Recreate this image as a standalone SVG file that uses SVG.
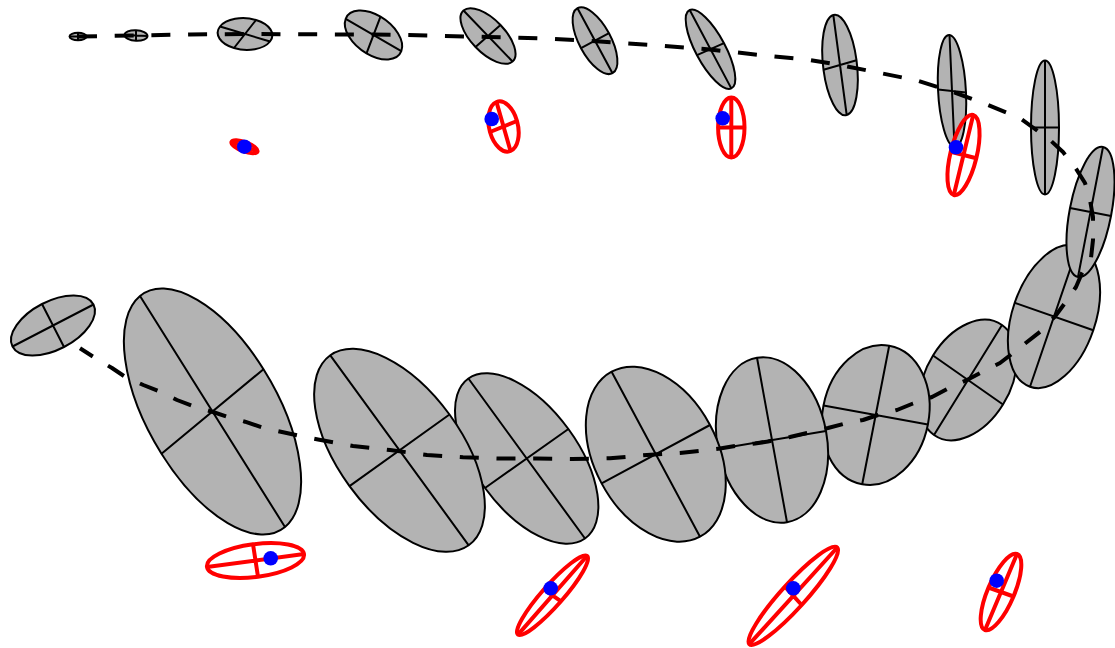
<svg xmlns="http://www.w3.org/2000/svg" width="1115" height="648" viewBox="0 0 1115 648">
<style>
.g{fill:#b3b3b3;stroke:#000;stroke-width:2}
.r{fill:none;stroke:#ff0000;stroke-width:4}
.dot{fill:#0000ff}
.traj{fill:none;stroke:#000;stroke-width:4;stroke-dasharray:19 17.7;stroke-linejoin:round}
</style>
<defs>
<g id="unit"><circle r="1" vector-effect="non-scaling-stroke"/><path d="M-1 0H1M0-1V1" fill="none" vector-effect="non-scaling-stroke"/></g>
</defs>
<g id="gray-ellipses">
<g id="b7" class="g" transform="matrix(34 -55 35 24.5 968 380)"><use href="#unit"/></g>
<g id="b6" class="g" transform="matrix(13.5 -69.2 52.2 9.5 875.7 415)"><use href="#unit"/></g>
<g id="b5" class="g" transform="matrix(15 82.2 54 -9 772 440)"><use href="#unit"/></g>
<g id="b4" class="g" transform="matrix(44.2 82.5 54.2 -29.2 655.8 454.2)"><use href="#unit"/></g>
<g id="b3" class="g" transform="matrix(58.3 80 41.7 -29.5 526.7 458.5)"><use href="#unit"/></g>
<g id="b2" class="g" transform="matrix(-69.2 -95 50 -35.8 399.5 450.3)"><use href="#unit"/></g>
<g id="bl" class="g" transform="matrix(72.5 115.5 51 -42.3 212.5 411.5)"><use href="#unit"/></g>
<g id="b1" class="g" transform="matrix(40.5 -21 11 21.5 53 325.5)"><use href="#unit"/></g>
<g id="e12" class="g" transform="matrix(-24 70.2 39.3 13.7 1054 316.5)"><use href="#unit"/></g>
<g id="e11" class="g" transform="matrix(12.5 -65 20.5 4 1090.5 212)"><use href="#unit"/></g>
<g id="t10" class="g" transform="matrix(0 67 14 0 1045 127.5)"><use href="#unit"/></g>
<g id="t9" class="g" transform="matrix(2.5 56 14 1.5 952 91)"><use href="#unit"/></g>
<g id="t8" class="g" transform="matrix(6.7 50 16.5 -4.8 840 65)"><use href="#unit"/></g>
<g id="t7" class="g" transform="matrix(20.8 39.2 13.5 -6 710.5 49.2)"><use href="#unit"/></g>
<g id="t6" class="g" transform="matrix(17.5 32.5 14 -7.5 595 40.7)"><use href="#unit"/></g>
<g id="t5" class="g" transform="matrix(24.5 25.5 12.5 -11 488 36)"><use href="#unit"/></g>
<g id="t4" class="g" transform="matrix(27.8 16.2 7 -18.3 373.5 35)"><use href="#unit"/></g>
<g id="t3" class="g" transform="matrix(25 7.5 11 -14 245 34)"><use href="#unit"/></g>
<g id="t2" class="g" transform="matrix(11.5 0.5 0 5.3 136 35.5)"><use href="#unit"/></g>
<g id="t1" class="g" transform="matrix(8.5 0 0 3.7 78 36.5)"><use href="#unit"/></g>
</g>
<g id="connectors">
<polyline class="traj" points="78,36.5 136,35.5 190,34.5 245,34 300,34.3 373,34.5 430,35.5 488,37 545,38.5 600,41.5 660,45.5 710,49.5 760,55 810,60 840,65 880,73 917,80.5 952,91.5 988,105 1020,118 1050,140 1063,152 1075,167 1085,183 1090,200 1093,217 1093,240 1091,258 1082,273 1076,287 1065,303 1055,316.5 1041,331 1027,342 1013,353 1000,363 982,372 967,380 948,388.5 932,397 913,403.5 897,410 878,415 863,420 843,424 828,428 807,433 790,437 768,441.5 755,443.5 737,445.7 720,448.5 680,453 647,455 610,458.3 572,459 537,458.5 500,458.5 463,457.3 427,455 390,450 353,446 318,439.5 300,436 282,432 265,428.3 245,421.7 226.7,416.7 213,412 195,406.7 177,400 160,391.7 143.3,385 125,376.7 112,368 96.7,359 80,348.3"/>
</g>
<g id="red-ellipses">
<g id="r0" class="r" transform="matrix(13 4.8 -1.5 4.3 244.5 146.7)"><use href="#unit"/></g>
<g id="ra" class="r" transform="matrix(7 24.5 13.5 -5.5 503.5 126.5)"><use href="#unit"/></g>
<g id="rb" class="r" transform="matrix(0 30 13.2 0 731.3 127.5)"><use href="#unit"/></g>
<g id="rc" class="r" transform="matrix(9.7 -40 12.8 3.3 963.5 155)"><use href="#unit"/></g>
<g id="r1" class="r" transform="matrix(48.5 -6.4 2.5 16.2 255.5 560.5)"><use href="#unit"/></g>
<g id="r2" class="r" transform="matrix(34.5 -39.3 8.5 6 552.5 595.3)"><use href="#unit"/></g>
<g id="r3" class="r" transform="matrix(44 -48.3 8.4 9.2 793.3 595.8)"><use href="#unit"/></g>
<g id="r4" class="r" transform="matrix(16 -38 12.5 4.5 1001 592)"><use href="#unit"/></g>
</g>
<g id="blue-dots">
<circle class="dot" cx="244.3" cy="146.7" r="7.3"/>
<circle class="dot" cx="491.7" cy="119" r="7.3"/>
<circle class="dot" cx="722.7" cy="118.3" r="7.3"/>
<circle class="dot" cx="956" cy="147.3" r="7.3"/>
<circle class="dot" cx="270.7" cy="558.3" r="7.3"/>
<circle class="dot" cx="550.7" cy="588.3" r="7.3"/>
<circle class="dot" cx="793.3" cy="588.3" r="7.3"/>
<circle class="dot" cx="996.7" cy="580.7" r="7.3"/>
</g>
</svg>
